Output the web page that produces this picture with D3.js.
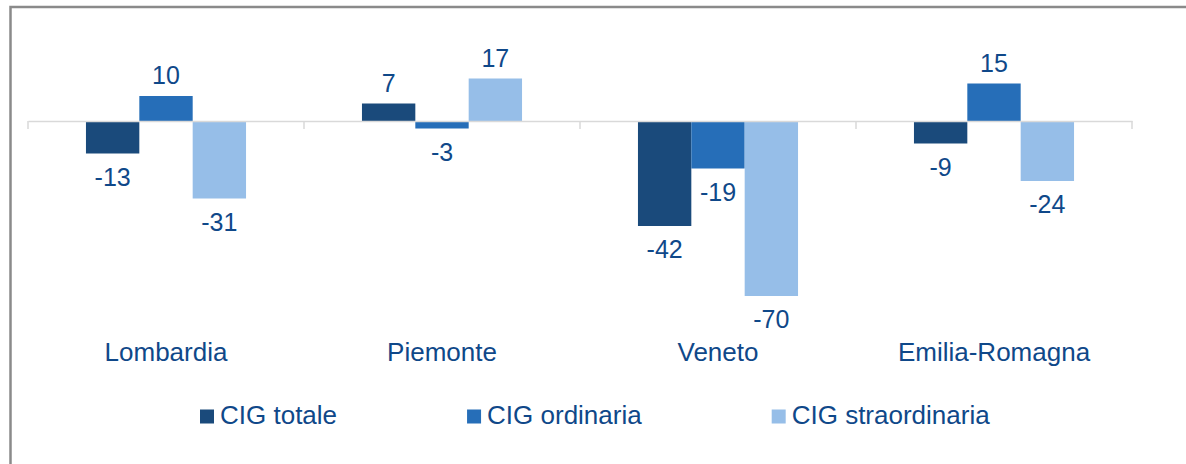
<!DOCTYPE html>
<html>
<head>
<meta charset="utf-8">
<script src="https://cdn.jsdelivr.net/npm/d3@7"></script>
<style>
  html, body { margin: 0; padding: 0; background: #fff; }
  svg { display: block; font-family: "Liberation Sans", Arial, sans-serif; }
</style>
</head>
<body>
<svg id="chart" width="1186" height="464"></svg>
<script>
// Regions and the three CIG series (change vs previous period)
const regions = ["Lombardia", "Piemonte", "Veneto", "Emilia-Romagna"];
const seriesNames = ["CIG totale", "CIG ordinaria", "CIG straordinaria"];
const cigTotale = [-13, 7, -42, -9];
const cigOrdinaria = [10, -3, -19, 15];
const cigStraordinaria = [-31, 17, -70, -24];

const seriesValues = [cigTotale, cigOrdinaria, cigStraordinaria];
const colors = ["#1a4a7b", "#266eb8", "#96bee8"];
const textColor = "#0f4889";

const svg = d3.select("#chart");

// outer frame
svg.append("rect")
  .attr("x", 10.5).attr("y", 7)
  .attr("width", 1300).attr("height", 600)
  .attr("fill", "none")
  .attr("stroke", "#8a8a8a")
  .attr("stroke-width", 2.5);

const x0 = d3.scaleBand().domain(regions).range([28, 1132]).padding(0);
const groupW = x0.bandwidth() * 0.58;
const x1 = d3.scaleBand().domain(seriesNames)
  .range([(x0.bandwidth() - groupW) / 2, (x0.bandwidth() + groupW) / 2]).padding(0);
const y = d3.scaleLinear().domain([-80, 30]).range([321, 46]);

// bars
const rows = regions.flatMap((r, i) =>
  seriesNames.map((s, j) => ({ region: r, series: s, j, value: seriesValues[j][i] })));

const g = svg.append("g");
g.selectAll("rect.bar").data(rows).enter().append("rect")
  .attr("class", "bar")
  .attr("x", d => x0(d.region) + x1(d.series))
  .attr("width", x1.bandwidth())
  .attr("y", d => y(Math.max(0, d.value)))
  .attr("height", d => Math.abs(y(d.value) - y(0)))
  .attr("fill", d => colors[d.j]);

// category axis along zero
const axis = svg.append("g")
  .attr("transform", `translate(0,${y(0)})`)
  .call(d3.axisBottom(x0).tickSize(0).tickFormat(""));
axis.select(".domain").attr("stroke", "#d9d9d9").attr("stroke-width", 1.5);
const tickXs = regions.map(r => x0(r)).concat([x0.range()[1]]);
axis.selectAll("line.tk").data(tickXs).enter().append("line")
  .attr("class", "tk")
  .attr("x1", d => d).attr("x2", d => d)
  .attr("y1", 0).attr("y2", 8)
  .attr("stroke", "#d9d9d9").attr("stroke-width", 1.5);

// value labels
g.selectAll("text.val").data(rows).enter().append("text")
  .attr("class", "val")
  .attr("x", d => x0(d.region) + x1(d.series) + x1.bandwidth() / 2)
  .attr("y", d => d.value >= 0 ? y(d.value) - 12 : y(d.value) + 32)
  .attr("text-anchor", "middle")
  .attr("fill", textColor)
  .attr("font-size", 25)
  .text(d => d3.format("d")(d.value).replace("−", "-"));

// category labels
svg.selectAll("text.cat").data(regions).enter().append("text")
  .attr("class", "cat")
  .attr("x", d => x0(d) + x0.bandwidth() / 2)
  .attr("y", 361)
  .attr("text-anchor", "middle")
  .attr("fill", textColor)
  .attr("font-size", 26)
  .text(d => d);

// legend
const legend = svg.append("g");
let lx = 200;
seriesNames.forEach((s, j) => {
  legend.append("rect")
    .attr("x", lx).attr("y", 409.5)
    .attr("width", 14).attr("height", 14)
    .attr("fill", colors[j]);
  const t = legend.append("text")
    .attr("x", lx + 20).attr("y", 423.5)
    .attr("fill", textColor)
    .attr("font-size", 26)
    .text(s);
  lx += 20 + t.node().getComputedTextLength() + 130;
});
</script>
</body>
</html>
